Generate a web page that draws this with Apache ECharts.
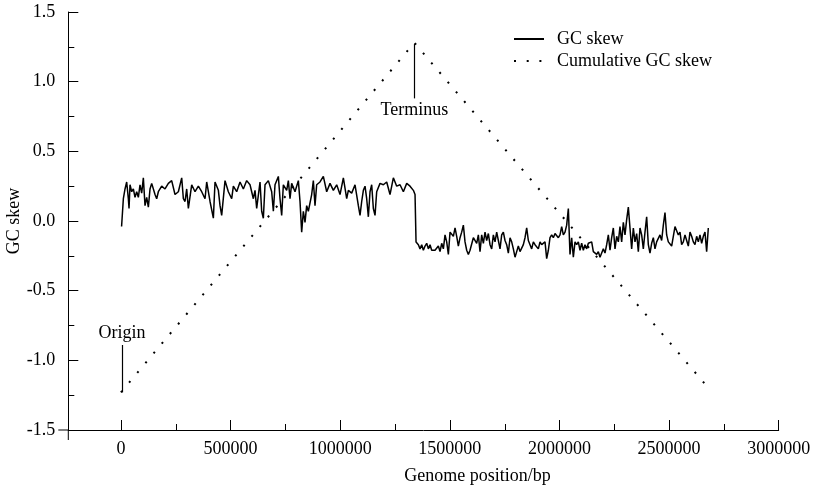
<!DOCTYPE html>
<html>
<head>
<meta charset="utf-8">
<script src="https://cdn.jsdelivr.net/npm/echarts@6/dist/echarts.min.js"></script>
<style>
html,body{margin:0;padding:0;background:#fff;}
#c{width:815px;height:487px;}
</style>
</head>
<body>
<div id="c"></div>
<script>
// ---- data ----
// GC skew, leading half (origin -> terminus): window positions (bp) and skew values
const leadingPos = [
 3000,11100,18700,26300,33900,37000,41500,49100,56700,64300,
 71900,79500,87100,94700,102300,109900,117500,125100,132700,140300,
 155500,163100,170700,185900,201100,216300,231500,246700,262000,277200,
 284800,292400,300000,307600,322800,338000,353200,368400,383600,391200,
 406400,421600,429200,444400,452000,459600,474800,490000,505200,512800,
 528000,543200,558400,573600,588800,604000,611600,619200,634400,642000,
 649600,657200,672400,687600,695200,702800,718000,725600,733200,740800,
 756000,763600,771200,778800,794000,809200,816800,824400,832000,839600,
 847200,854800,870000,877600,885200,892800,908000,923200,938500,953700,
 968900,984100,999300,1014500,1029700,1037300,1052500,1067700,1082900,1090500,
 1098100,1105700,1113300,1120900,1128500,1136100,1143700,1151300,1158900,1166500,
 1181700,1196900,1212100,1227300,1242500,1257800,1273000,1288200,1303400,1318600,
 1333800,1341400,1346000
];
const leadingSkew = [
 -0.04,0.16,0.23,0.28,0.16,0.09,0.26,0.21,0.23,0.17,
 0.21,0.17,0.26,0.20,0.31,0.11,0.17,0.10,0.23,0.27,
 0.19,0.16,0.21,0.25,0.23,0.27,0.29,0.19,0.21,0.31,
 0.16,0.14,0.23,0.09,0.26,0.21,0.25,0.21,0.16,0.28,
 0.14,0.02,0.28,0.22,0.11,0.04,0.29,0.21,0.16,0.25,
 0.21,0.28,0.23,0.29,0.26,0.16,0.22,0.09,0.28,0.07,
 0.02,0.26,0.29,0.21,0.07,0.26,0.32,0.16,0.04,0.26,
 0.22,0.29,0.16,0.27,0.21,0.29,0.14,-0.08,0.07,-0.01,
 0.11,0.07,0.19,0.29,0.11,0.26,0.28,0.32,0.21,0.27,
 0.22,0.26,0.19,0.31,0.16,0.22,0.20,0.26,0.11,0.04,
 0.14,0.22,0.25,0.16,0.03,0.21,0.26,0.09,0.04,0.21,
 0.27,0.26,0.28,0.19,0.31,0.25,0.26,0.21,0.27,0.25,
 0.22,0.19,-0.15
];
// GC skew, lagging half (terminus -> end): evenly spaced windows
const laggingStart = 1356600;
const laggingStep = 7600;
const laggingSkew = [
 -0.17,-0.20,-0.17,-0.21,-0.18,-0.16,-0.20,-0.17,-0.21,-0.20,
 -0.21,-0.22,-0.18,-0.22,-0.16,-0.20,-0.10,-0.15,-0.24,-0.08,
 -0.07,-0.11,-0.05,-0.11,-0.18,-0.12,-0.08,-0.03,-0.15,-0.21,
 -0.24,-0.21,-0.22,-0.12,-0.11,-0.16,-0.10,-0.22,-0.10,-0.16,
 -0.08,-0.14,-0.09,-0.17,-0.20,-0.10,-0.15,-0.08,-0.14,-0.20,
 -0.10,-0.08,-0.14,-0.17,-0.23,-0.12,-0.15,-0.20,-0.26,-0.22,
 -0.18,-0.22,-0.21,-0.17,-0.12,-0.05,-0.14,-0.17,-0.20,-0.15,
 -0.17,-0.16,-0.20,-0.15,-0.17,-0.16,-0.15,-0.27,-0.21,-0.12,
 -0.10,-0.12,-0.09,-0.10,-0.12,-0.10,-0.04,-0.10,-0.08,-0.03,
 0.09,-0.24,-0.12,-0.26,-0.15,-0.17,-0.15,-0.21,-0.16,-0.21,
 -0.17,-0.20,-0.16,-0.17,-0.15,-0.22,-0.21,-0.24,-0.22,-0.26,
 -0.23,-0.20,-0.23,-0.17,-0.10,-0.21,-0.12,-0.05,-0.20,-0.11,
 -0.15,-0.04,-0.15,-0.01,-0.10,0.01,0.10,-0.05,-0.20,-0.05,
 -0.15,-0.09,-0.22,-0.05,-0.10,-0.20,-0.08,0.03,-0.17,-0.23,
 -0.16,-0.12,-0.20,-0.15,-0.14,-0.10,-0.14,-0.03,0.06,-0.10,
 -0.15,-0.14,-0.18,-0.11,-0.04,-0.07,-0.10,-0.08,-0.17,-0.15,
 -0.10,-0.14,-0.18,-0.08,-0.11,-0.15,-0.17,-0.11,-0.15,-0.10,
 -0.16,-0.11,-0.08,-0.22,-0.05
];
const cumPositions = [0, 1338000, 2680000];
const cumSkew = [-1.23, 1.28, -1.20];
const xMajorTicks = [0, 500000, 1000000, 1500000, 2000000, 2500000, 3000000];
const xMinorTicks = [250000, 750000, 1250000, 1750000, 2250000, 2750000];
const xRange = [-240000, 3000000];
const yRange = [-1.5, 1.5];
const origin = {pos: 5000, from: -1.23, to: -0.89, label: 'Origin'};
const terminus = {pos: 1338000, from: 1.27, to: 0.88, label: 'Terminus'};

// ---- build ----
const FONT = "'Liberation Serif','Times New Roman',serif";
const gcData = leadingPos.map((p, i) => [p, leadingSkew[i]])
  .concat(laggingSkew.map((v, i) => [laggingStart + i * laggingStep, v]));
const cumData = cumPositions.map((p, i) => [p, cumSkew[i]]);

const chart = echarts.init(document.getElementById('c'), null, {renderer: 'canvas'});
const axisColor = '#000';
const option = {
  animation: false,
  backgroundColor: '#fff',
  textStyle: {fontFamily: FONT},
  grid: {left: 68.3, right: 36.3, top: 12, bottom: 57, containLabel: false, outerBoundsMode: 'none'},
  legend: {
    orient: 'vertical', left: 513, top: 30, padding: 0,
    itemWidth: 30, itemHeight: 12, itemGap: 4,
    itemStyle: {color: 'rgba(0,0,0,0)', borderWidth: 0, opacity: 0},
    textStyle: {fontFamily: FONT, fontSize: 18, color: '#000', padding: [0, 0, 0, 8]},
    data: ['GC skew', 'Cumulative GC skew']
  },
  xAxis: {
    type: 'value', min: xRange[0], max: xRange[1], position: 'bottom',
    name: 'Genome position/bp', nameLocation: 'middle', nameGap: 37, nameMoveOverlap: false,
    nameTextStyle: {fontFamily: FONT, fontSize: 18, color: '#000', padding: [0, 0, 0, 108]},
    axisLine: {show: true, onZero: false, lineStyle: {color: axisColor, width: 1}},
    axisTick: {show: true, inside: true, length: 10, customValues: xMajorTicks, lineStyle: {color: axisColor}},
    axisLabel: {customValues: xMajorTicks, margin: 10, fontFamily: FONT, fontSize: 18, color: '#000', formatter: v => String(v)},
    splitLine: {show: false}
  },
  yAxis: {
    type: 'value', min: yRange[0], max: yRange[1], interval: 0.5,
    name: 'GC skew', nameLocation: 'middle', nameGap: 45, nameRotate: 90, nameMoveOverlap: false,
    nameTextStyle: {fontFamily: FONT, fontSize: 18, color: '#000'},
    axisLine: {show: true, onZero: false, lineStyle: {color: axisColor, width: 1}},
    axisTick: {show: true, inside: true, length: 10, lineStyle: {color: axisColor}},
    minorTick: {show: true, splitNumber: 2, length: 6, lineStyle: {color: axisColor}},
    axisLabel: {margin: 13, fontFamily: FONT, fontSize: 18, color: '#000', formatter: v => v.toFixed(1)},
    splitLine: {show: false}, minorSplitLine: {show: false}
  },
  series: [{
    name: 'GC skew', type: 'line', data: gcData, symbol: 'none',
    lineStyle: {color: '#000', width: 1.5},
    itemStyle: {color: '#000'},
    markLine: {
      silent: true, symbol: ['none', 'none'], animation: false,
      lineStyle: {color: '#000', width: 1.2, type: 'solid'},
      label: {show: true, position: 'end', fontFamily: FONT, fontSize: 18, color: '#000', distance: 3},
      data: [
        [{coord: [terminus.pos, terminus.from]}, {coord: [terminus.pos, terminus.to], label: {formatter: terminus.label}}],
        [{coord: [origin.pos, origin.from]}, {coord: [origin.pos, origin.to], label: {formatter: origin.label}}]
      ]
    }
  }, {
    name: 'Cumulative GC skew', type: 'line', data: cumData, symbol: 'none',
    lineStyle: {color: '#000', width: 2, type: [2, 10.7], cap: 'butt'},
    itemStyle: {color: '#000'}
  }]
};
chart.setOption(option);

// axis decorations: minor x ticks and axis-line stubs past the crossing point
const corner = chart.convertToPixel({xAxisIndex: 0, yAxisIndex: 0}, [xRange[0], yRange[0]]);
const graphics = [
  {type: 'line', silent: true, shape: {x1: corner[0] - 10, y1: corner[1], x2: corner[0], y2: corner[1]}, style: {stroke: axisColor, lineWidth: 1}},
  {type: 'line', silent: true, shape: {x1: corner[0], y1: corner[1], x2: corner[0], y2: corner[1] + 10}, style: {stroke: axisColor, lineWidth: 1}}
];
xMinorTicks.forEach(v => {
  const p = chart.convertToPixel({xAxisIndex: 0, yAxisIndex: 0}, [v, yRange[0]]);
  const x = Math.round(p[0]) + 0.5;
  graphics.push({type: 'line', silent: true, shape: {x1: x, y1: p[1], x2: x, y2: p[1] - 6}, style: {stroke: axisColor, lineWidth: 1}});
});
chart.setOption({graphic: graphics});
</script>
</body>
</html>
